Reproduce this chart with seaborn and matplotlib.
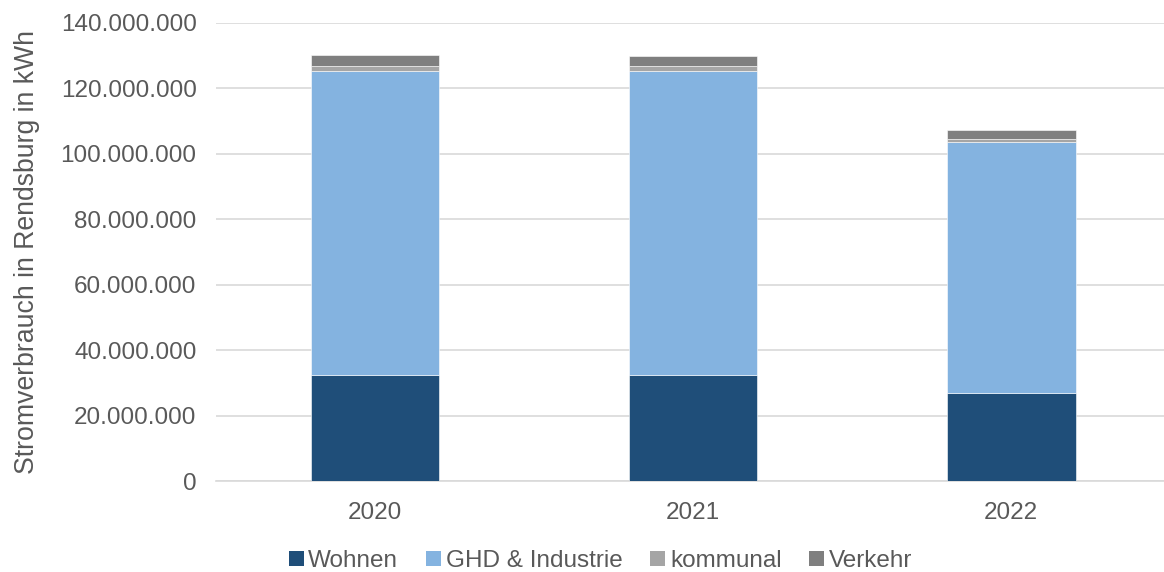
import matplotlib
matplotlib.use("Agg")
import matplotlib.pyplot as plt
from matplotlib.ticker import FuncFormatter, MultipleLocator
from matplotlib.patches import Patch
import numpy as np
import pandas as pd
import seaborn as sns

years = ["2020", "2021", "2022"]
wohnen = [32.5e6, 32.4e6, 26.8e6]
ghd_industrie = [92.9e6, 92.8e6, 76.7e6]
kommunal = [1.5e6, 1.5e6, 1.1e6]
verkehr = [3.2e6, 3.2e6, 2.7e6]

series = ["Wohnen", "GHD & Industrie", "kommunal", "Verkehr"]
values = [wohnen, ghd_industrie, kommunal, verkehr]
colors = ["#1F4E79", "#84B3E0", "#A5A5A5", "#7F7F7F"]

sns.set_theme(style="white")
plt.rcParams["font.family"] = ["Liberation Sans", "DejaVu Sans"]
text_color = "#595959"

fig = plt.figure(figsize=(11.64, 5.72), dpi=100)
ax = fig.add_axes([0.1856, 0.159, 0.8153, 0.801])

bottom = np.zeros(len(years))
for name, vals, col in zip(series, values, colors):
    df = pd.DataFrame({"Jahr": years, "Wert": vals})
    sns.barplot(data=df, x="Jahr", y="Wert", color=col, width=0.405,
                bottom=bottom, ax=ax, saturation=1, errorbar=None,
                edgecolor="white", linewidth=0.4, zorder=3)
    bottom = bottom + np.array(vals)

ax.set_ylim(0, 140e6)
ax.set_xlim(-0.5, 2.484)
ax.yaxis.set_major_locator(MultipleLocator(20e6))
ax.yaxis.set_major_formatter(FuncFormatter(lambda v, p: f"{int(round(v)):,}".replace(",", ".")))
ax.grid(axis="y", color="#D9D9D9", linewidth=1.2, zorder=0)
ax.set_axisbelow(True)
for s in ["top", "right", "left"]:
    ax.spines[s].set_visible(False)
ax.spines["bottom"].set_color("#D9D9D9")
ax.spines["bottom"].set_linewidth(1.2)
ax.tick_params(axis="both", length=0, labelsize=17.5, colors=text_color)
ax.tick_params(axis="y", pad=14)
ax.tick_params(axis="x", pad=15)
ax.set_xlabel("")
ax.set_ylabel("Stromverbrauch in Rendsburg in kWh", fontsize=19.2, color=text_color, labelpad=15)

handles = [Patch(facecolor=c, edgecolor="none") for c in colors]
fig.legend(handles, series, loc="center", ncol=4, frameon=False,
           bbox_to_anchor=(0.516, 0.019), fontsize=17.5, labelcolor=text_color,
           handlelength=0.6, handleheight=0.6, handletextpad=0.2, columnspacing=1.15)

fig.savefig("out.png", dpi=100)
